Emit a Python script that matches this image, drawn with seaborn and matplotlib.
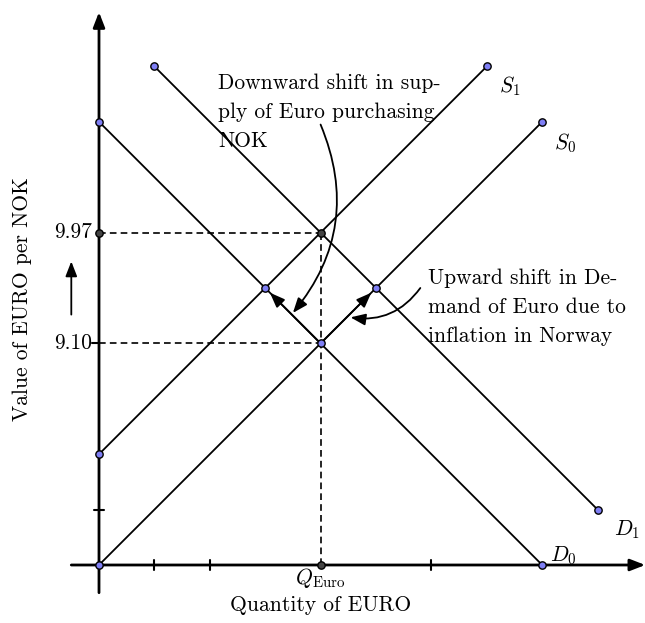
import matplotlib
matplotlib.use("Agg")
import matplotlib.pyplot as plt
import seaborn as sns
import pandas as pd

# curves: name -> (start point, end point) in quantity / value units
curve_names = ["D0", "D1", "S0", "S1"]
curve_q = [[0, 8], [1, 9], [0, 8], [0, 7]]
curve_p = [[8, 0], [9, 1], [0, 8], [2, 9]]
curve_labels = ["$D_0$", "$D_1$", "$S_0$", "$S_1$"]

# marked points
blue_q = [0, 1, 7, 8, 9, 8, 0, 0, 3, 5, 4]
blue_p = [8, 9, 9, 8, 1, 0, 0, 2, 5, 5, 4]
grey_q = [4, 0, 4]
grey_p = [6, 6, 0]

q_euro = 4
price_levels = [4, 6]
price_labels = ["9.10", "9.97"]
x_ticks = [1, 2, 6]
y_ticks = [1]

sns.set_style("white")
plt.rcParams["font.family"] = ["cmr10", "DejaVu Serif"]
plt.rcParams["mathtext.fontset"] = "cm"
plt.rcParams["axes.formatter.use_mathtext"] = True
plt.rcParams["text.color"] = "black"

FS = 15.5
fig = plt.figure(figsize=(6.45, 6.23), dpi=100)
ax = fig.add_axes([0, 0, 1, 1])
u = 55.4
ax.set_xlim(-99 / u, 546 / u)
ax.set_ylim(-58 / u, 565 / u)
ax.axis("off")

rows = []
for name, qs, ps in zip(curve_names, curve_q, curve_p):
    for q, p in zip(qs, ps):
        rows.append({"curve": name, "q": q, "p": p})
df = pd.DataFrame(rows)
sns.lineplot(data=df, x="q", y="p", units="curve", estimator=None,
             color="black", lw=1.3, ax=ax, legend=False)

head = "-|>,head_length=0.9,head_width=0.35"
# axes with arrows
ax.annotate("", xy=(9.86, 0), xytext=(-0.5, 0), annotation_clip=False,
            arrowprops=dict(arrowstyle=head, color="black", lw=2, shrinkA=0, shrinkB=0))
ax.annotate("", xy=(0, 9.98), xytext=(0, -0.5), annotation_clip=False,
            arrowprops=dict(arrowstyle=head, color="black", lw=2, shrinkA=0, shrinkB=0))
for t in x_ticks:
    ax.plot([t, t], [-0.09, 0.09], color="black", lw=1.5)
for t in y_ticks:
    ax.plot([-0.09, 0.09], [t, t], color="black", lw=1.5)
ax.plot([-0.12, 0], [price_levels[0]] * 2, color="black", lw=1.5)

# dashed guides
ax.plot([0, q_euro], [price_levels[1]] * 2, ls="--", color="black", lw=1.2, dashes=(4, 2.5))
ax.plot([0, q_euro], [price_levels[0]] * 2, ls="--", color="black", lw=1.2, dashes=(4, 2.5))
ax.plot([q_euro, q_euro], [0, price_levels[1]], ls="--", color="black", lw=1.2, dashes=(4, 2.5))
for lvl, lab in zip(price_levels, price_labels):
    ax.text(-0.12, lvl, lab, ha="right", va="center", fontsize=FS)

# shift arrows
ax.annotate("", xy=(3.05, 4.95), xytext=(4, 4),
            arrowprops=dict(arrowstyle=head, color="black", lw=1.3))
ax.annotate("", xy=(4.95, 4.95), xytext=(4, 4),
            arrowprops=dict(arrowstyle=head, color="black", lw=1.3))
ax.annotate("", xy=(3.5, 4.55), xytext=(4.0, 7.95),
            arrowprops=dict(arrowstyle=head, color="black", lw=1.3,
                            connectionstyle="arc3,rad=-0.3", shrinkA=0, shrinkB=0))
ax.annotate("", xy=(4.54, 4.47), xytext=(5.8, 5.0),
            arrowprops=dict(arrowstyle=head, color="black", lw=1.3,
                            connectionstyle="arc3,rad=-0.3", shrinkA=0, shrinkB=0))
ax.annotate("", xy=(-0.5, 5.48), xytext=(-0.5, 4.52),
            arrowprops=dict(arrowstyle=head, color="black", lw=1.3,
                            shrinkA=0, shrinkB=0))

sns.scatterplot(x=blue_q, y=blue_p, color="#7f7ff5", edgecolor="black", linewidth=1.0,
                s=28, zorder=5, ax=ax, clip_on=False)
sns.scatterplot(x=grey_q, y=grey_p, color="#444444", edgecolor="black", linewidth=1.0,
                s=28, zorder=5, ax=ax, clip_on=False)

# curve labels
label_pos = {"D0": (8.38, 0.16), "D1": (9.53, 0.63), "S0": (8.41, 7.62), "S1": (7.42, 8.65)}
for name, lab in zip(curve_names, curve_labels):
    x, y = label_pos[name]
    ax.text(x, y, lab, ha="center", va="center", fontsize=FS)

ax.text(q_euro, -0.24, r"$Q_{\mathrm{Euro}}$", ha="center", va="center", fontsize=FS)
ax.text(q_euro, -0.72, "Quantity of EURO", ha="center", va="center", fontsize=FS)
ax.text(-1.38, 4.8, "Value of EURO per NOK", ha="center", va="center", rotation=90, fontsize=FS)

for i, line in enumerate(["Downward shift in sup-", "ply of Euro purchasing", "NOK"]):
    ax.text(2.15, 8.7 - i * 0.525, line, ha="left", va="center", fontsize=FS)
for i, line in enumerate(["Upward shift in De-", "mand of Euro due to", "inflation in Norway"]):
    ax.text(5.94, 5.18 - i * 0.525, line, ha="left", va="center", fontsize=FS)

fig.savefig("out.png", dpi=100)
